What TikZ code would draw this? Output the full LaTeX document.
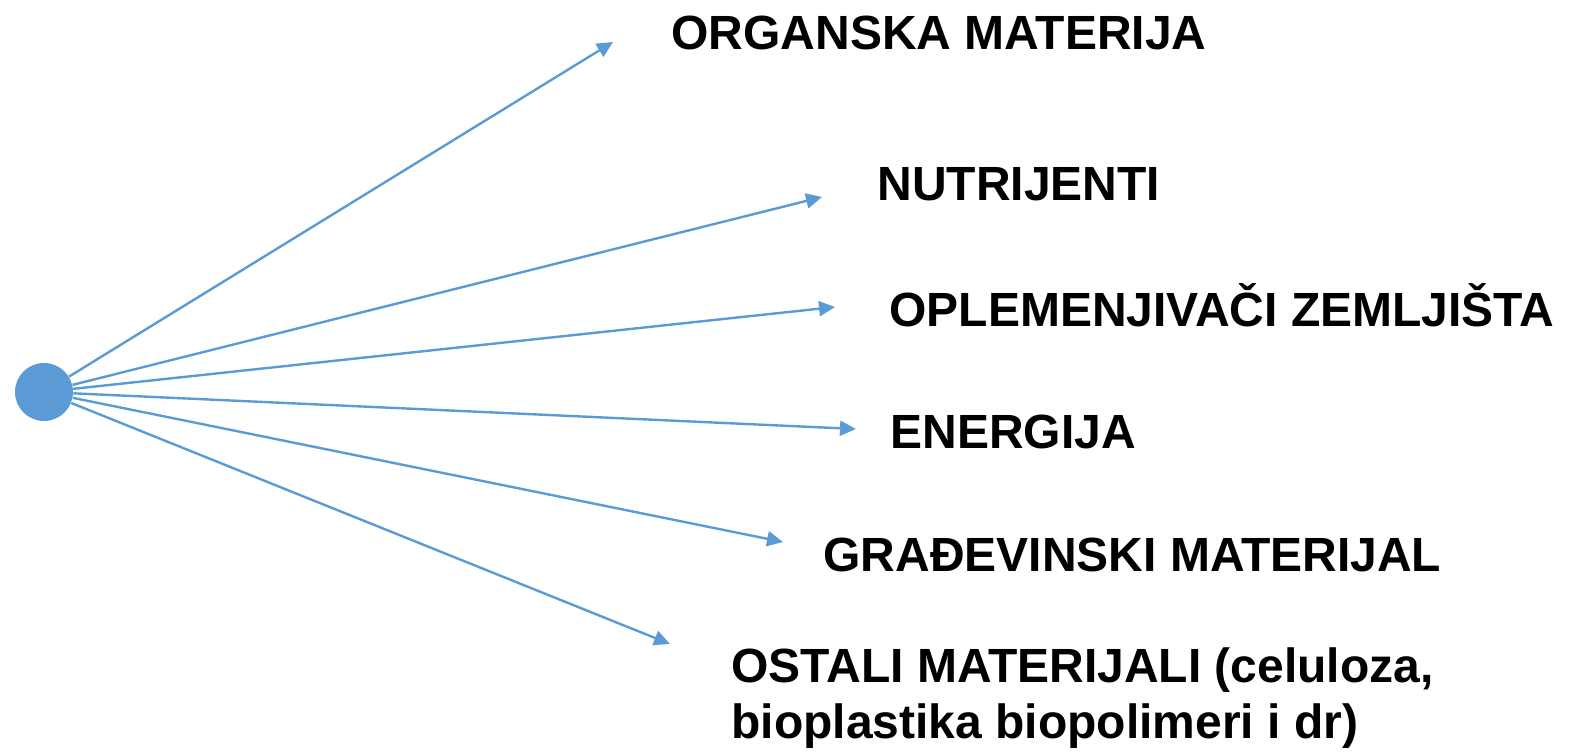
\documentclass[tikz,border=0pt]{standalone}
\usepackage{fontspec}
\setmainfont{Liberation Sans}
\usetikzlibrary{arrows.meta}
\definecolor{dotblue}{RGB}{91,155,213}
\begin{document}
\begin{tikzpicture}[x=0.5pt, y=-0.5pt,
	usemark/.style={draw=dotblue, line width=1.2pt, -{Triangle[length=8pt,width=7.5pt]}},
	uselabel/.style={anchor=west, inner sep=0pt, font=\fontsize{24}{28}\selectfont\bfseries, align=left}]
			\useasboundingbox (0,0) rectangle (1581,753);
			
			\node[circle, fill=dotblue, minimum size=29pt, inner sep=0pt] (dot) at (44,392) {};
			
			\coordinate (t1) at (613,42);
			\coordinate (t2) at (822,197);
			\coordinate (t3) at (835,307);
			\coordinate (t4) at (856,429);
			\coordinate (t5) at (783,542);
			\coordinate (t6) at (670,644);
			
			\node[uselabel] (organska) at (671,33) {ORGANSKA MATERIJA};
			\node[uselabel] (nutrijenti) at (877,184) {NUTRIJENTI};
			\node[uselabel] (oplemenjivaci) at (889,305) {OPLEMENJIVAČI ZEMLJIŠTA};
			\node[uselabel] (energija) at (890,432) {ENERGIJA};
			\node[uselabel] (gradjevinski) at (823,555) {GRAĐEVINSKI MATERIJAL};
			\node[uselabel] (ostali) at (731,698) {OSTALI MATERIJALI (celuloza,\\bioplastika biopolimeri i dr)};
			
			\draw[usemark] (dot) -- (t1);
			\draw[usemark] (dot) -- (t2);
			\draw[usemark] (dot) -- (t3);
			\draw[usemark] (dot) -- (t4);
			\draw[usemark] (dot) -- (t5);
			\draw[usemark] (dot) -- (t6);
		\end{tikzpicture}
\end{document}
